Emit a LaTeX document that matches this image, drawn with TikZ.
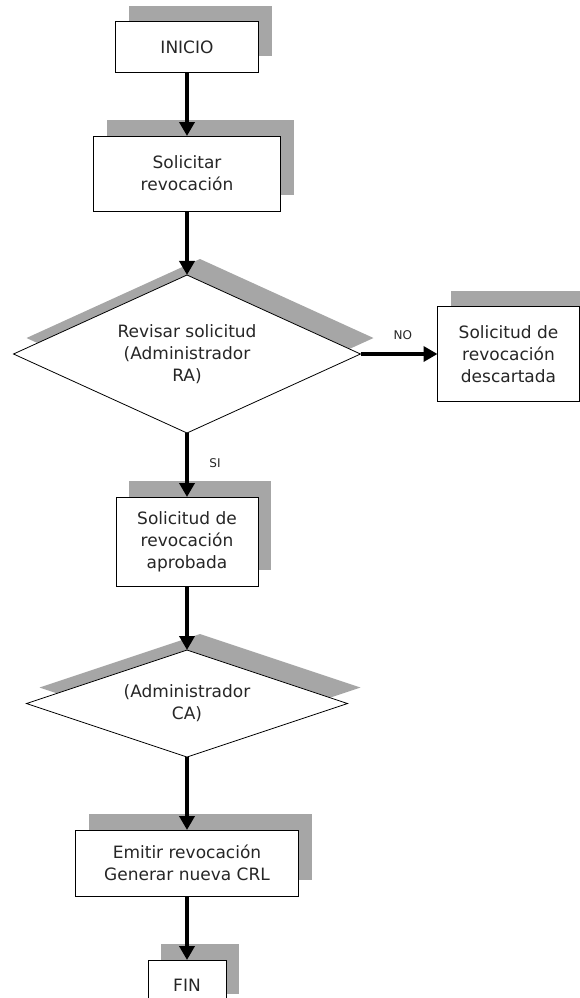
\documentclass[tikz,border=0pt]{standalone}
\usepackage{fontspec}
\setmainfont{DejaVu Sans}
\usetikzlibrary{arrows.meta,positioning,shapes.geometric,shadows}

\begin{document}
\begin{tikzpicture}[font=\fontsize{17}{22}\selectfont,
  shdw/.style={drop shadow={shadow xshift=13pt,shadow yshift=16pt,fill=black!35,opacity=1}},
  box/.style={draw,line width=1pt,fill=white,shdw,inner sep=0pt,outer sep=0pt,align=center,text=black!85},
  dec/.style={box,shape=diamond,aspect=2.2,line width=0.8pt},
  arr/.style={-{Triangle[width=15pt,length=14pt]},line width=4pt},
  lbl/.style={font=\fontsize{12}{14}\selectfont,inner sep=0pt,text=black!85}]
\useasboundingbox (0,0) rectangle (579pt,-998pt);
\node[box,minimum width=143pt,minimum height=50pt] (ini) at (187pt,-47pt) {INICIO};
\node[box,minimum width=187pt,minimum height=75pt,below=64pt of ini] (sol) {Solicitar\\revocación};
\node[dec,minimum width=347pt,minimum height=158pt,below=64pt of sol] (rev) {Revisar solicitud\\(Administrador\\RA)};
\node[box,minimum width=142pt,minimum height=95pt,right=77pt of rev] (desc) {Solicitud de\\revocación\\descartada};
\node[box,minimum width=142pt,minimum height=89pt,below=64pt of rev] (apr) {Solicitud de\\revocación\\aprobada};
\node[dec,minimum width=321pt,minimum height=107pt,below=64pt of apr] (ca) {(Administrador\\CA)};
\node[box,minimum width=223pt,minimum height=66pt,below=73pt of ca] (emi) {Emitir revocación\\Generar nueva CRL};
\node[box,minimum width=78pt,minimum height=50pt,below=64pt of emi] (fin) {FIN};
\draw[arr] (ini) -- (sol);
\draw[arr] (sol) -- (rev);
\draw[arr] (rev.east) -- node[lbl,pos=0.55,yshift=19pt] (no) {NO} (desc.west);
\draw[arr] (rev.south) -- node[lbl,pos=0.47,xshift=28pt] (si) {SI} (apr.north);
\draw[arr] (apr) -- (ca);
\draw[arr] (ca) -- (emi);
\draw[arr] (emi) -- (fin);
\end{tikzpicture}
\end{document}
